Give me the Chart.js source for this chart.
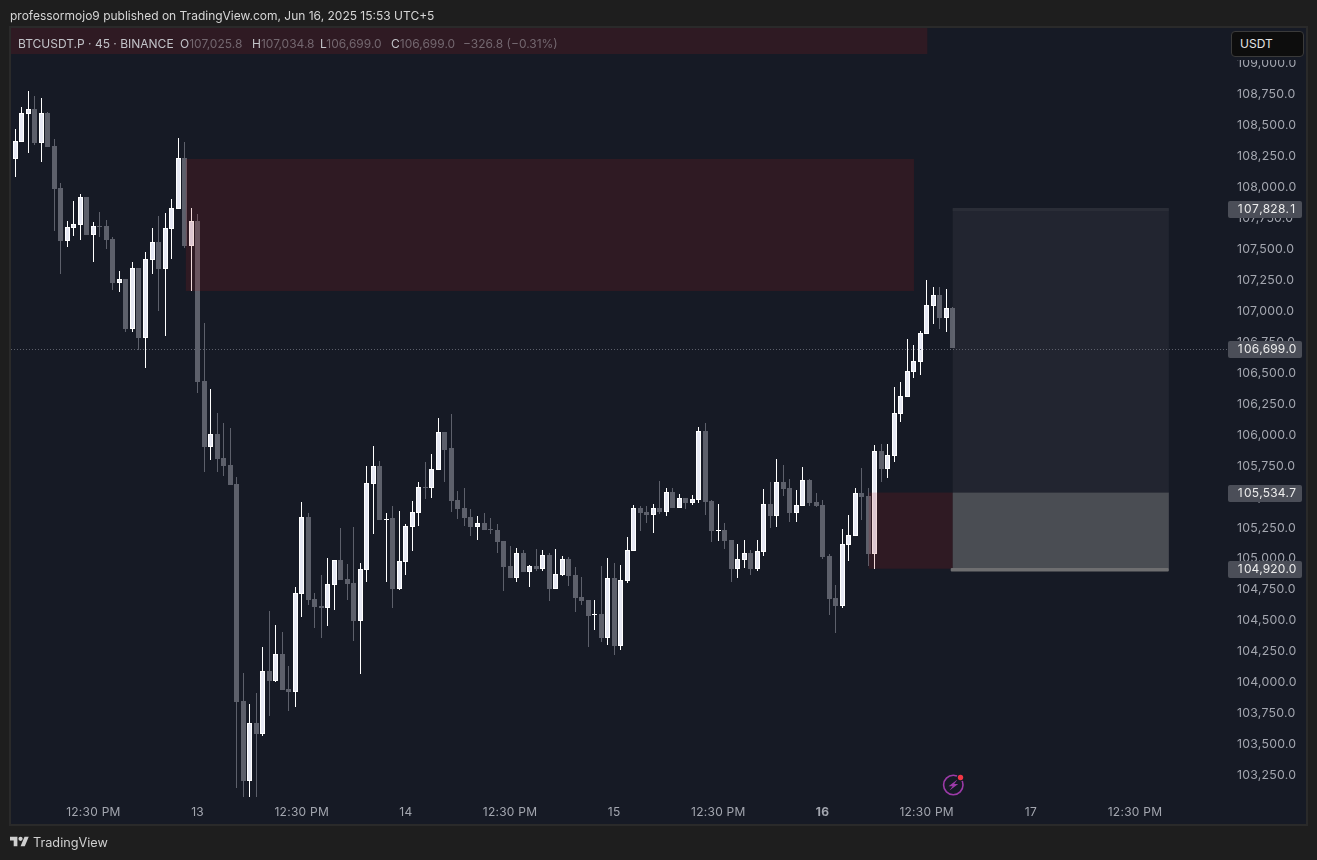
<!DOCTYPE html>
<html>
<head>
<meta charset="utf-8">
<title>BTCUSDT.P 45</title>
<script src="https://cdn.jsdelivr.net/npm/chart.js@4"></script>
<style>
  html, body { margin: 0; padding: 0; width: 1317px; height: 860px; overflow: hidden; background: #1e1e1e; font-family: Inter, sans-serif; }
  .pane { position: absolute; left: 9px; top: 26px; width: 1295px; height: 796px; background: #161a25; border: 2px solid #2a2a2a; }
  canvas { position: absolute; left: 0; top: 0; }
  .txt { position: absolute; white-space: nowrap; }
  #published { left: 10px; top: 8px; font-size: 12px; line-height: 15px; color: #d6d6d6; }
  .legend { top: 36px; font-size: 12px; line-height: 15px; color: #c2c3c8; }
  .legend span { color: #73676f; }
  #unit { position: absolute; left: 1231px; top: 31px; width: 71px; height: 24px; background: #0d0d0d; border: 1px solid #3a3a3a; border-radius: 4px; color: #e4e4e4; font-size: 12px; line-height: 24px; text-indent: 8px; }
  #brand { left: 33px; top: 835px; font-size: 12.7px; line-height: 16px; color: #cfcfcf; }
  svg { position: absolute; }
</style>
</head>
<body>
<div class="pane"></div>
<canvas id="chart" width="1317" height="860"></canvas>
<div class="txt" id="published">professormojo9 published on TradingView.com, Jun 16, 2025 15:53 UTC+5</div>
<div class="txt legend" style="left:18px">BTCUSDT.P · 45 · BINANCE</div>
<div class="txt legend" style="left:180px">O<span>107,025.8</span></div>
<div class="txt legend" style="left:252px">H<span>107,034.8</span></div>
<div class="txt legend" style="left:320px">L<span>106,699.0</span></div>
<div class="txt legend" style="left:391px">C<span>106,699.0</span></div>
<div class="txt legend" style="left:463px"><span>−326.8 (−0.31%)</span></div>
<div id="unit">USDT</div>
<svg style="left:942px;top:773px" width="24" height="24" viewBox="0 0 24 24">
  <circle cx="11.3" cy="12" r="9.7" fill="none" stroke="#9c3aa8" stroke-width="1.6"/>
  <path d="M15.5 6.5 L6.5 13.2 L10.6 13.2 L7.5 17.5 L16.2 11 L12.2 11 Z" fill="#9c3aa8"/>
  <circle cx="18.5" cy="4.5" r="3.8" fill="#161a25"/>
  <circle cx="18.5" cy="4.5" r="2.7" fill="#f23645"/>
</svg>
<svg style="left:10px;top:835px" width="19" height="14" viewBox="0 1 36 26">
  <path fill="#cfcfcf" d="M14 22H7V11H0V4h14v18zM28 22h-8l7.5-18h8L28 22z"/>
  <circle fill="#cfcfcf" cx="20" cy="8" r="4"/>
</svg>
<div class="txt" id="brand">TradingView</div>
<script>
const opens = [108229,108366,108592,108633,108358,108600,108334,107995,107566,107671,107696,107922,107615,107688,107688,107583,107227,107260,106856,107348,106783,107413,107558,107340,107663,107825,108237,107526,107728,106436,105903,106008,105814,105757,105604,103851,103205,103674,103585,104094,104013,104231,103948,103924,104716,105338,104675,104619,104603,104788,104990,104837,104804,104497,104909,105604,105749,105313,105329,104756,104974,105257,105370,105580,105572,105717,106024,105895,105475,105410,105338,105257,105289,105241,105232,105144,104942,104845,105047,104893,104942,104918,105031,104756,104869,104998,104869,104691,104667,104546,104554,104360,104845,104296,104821,105063,105410,105378,105354,105410,105378,105539,105410,105491,105450,105475,106032,105467,105224,105232,105152,104918,104990,105047,104918,105055,105443,105346,105620,105572,105370,105426,105636,105459,105434,105023,104683,104619,105111,105184,105531,105507,105039,105870,105725,105830,106169,106307,106508,106589,106815,107042,107130,106945,107025.8];
const highs = [108469,108646,108778,108738,108721,108608,108390,108035,107728,107890,107946,107922,107720,107801,107736,107599,107324,107260,107397,107348,107478,107671,107768,107793,107906,108398,108366,107833,107785,106904,106371,106177,106097,106056,105660,104078,103827,103916,104288,104578,104465,104409,104134,104772,105459,105370,104724,104869,105006,104990,105249,104958,105257,104966,105749,105911,105790,105370,105426,105386,105281,105467,105620,105782,105846,106137,106024,106169,105547,105572,105402,105346,105370,105329,105281,105144,105103,105087,105071,104950,105079,105071,105047,105079,105023,105014,104934,104853,104667,104667,104942,105006,104966,104950,105176,105434,105426,105426,105443,105628,105572,105572,105523,105491,105515,106064,106097,105475,105443,105289,105152,105119,105152,105071,105152,105564,105620,105806,105757,105644,105556,105741,105644,105531,105475,105039,104788,105241,105354,105572,105733,105572,105919,105927,105927,106387,106428,106775,106727,106840,107252,107195,107195,107179,107034.8];
const lows = [108086,108366,108277,108342,108205,108326,107647,107300,107518,107607,107575,107615,107397,107599,107502,107171,107155,106832,106832,106686,106541,107300,107001,106799,107421,107825,107510,107163,106339,105701,105798,105701,105669,105596,103149,103076,103076,103076,103569,103730,104005,103940,103771,103803,104530,104627,104441,104360,104457,104586,104829,104667,104336,104070,104813,105200,105313,104813,104603,104748,104869,105063,105265,105483,105491,105717,105620,105378,105321,105265,105184,105152,105232,105200,105047,104740,104845,104813,104893,104772,104901,104901,104659,104756,104861,104780,104570,104627,104288,104425,104328,104304,104223,104263,104804,105063,105224,105289,105208,105362,105346,105410,105410,105402,105434,105450,105354,105136,105144,105079,104813,104845,104926,104869,104901,105023,105249,105257,105507,105297,105297,105426,105426,105418,104998,104546,104401,104603,104982,105184,105313,104942,104918,105620,105652,105782,106105,106307,106460,106484,106815,106896,106856,106832,106699.0];
const closes = [108374,108600,108633,108358,108600,108326,107986,107566,107680,107704,107922,107615,107688,107680,107575,107227,107260,106856,107348,106783,107421,107558,107340,107671,107833,108237,107526,107728,106428,105903,106008,105806,105749,105596,103843,103205,103674,103585,104094,104013,104231,103940,103924,104724,105338,104667,104611,104603,104796,104990,104829,104796,104497,104918,105612,105749,105313,105321,104756,104982,105265,105378,105580,105572,105725,106024,105879,105467,105402,105329,105257,105289,105232,105232,105136,104934,104845,105047,104893,104942,104918,105031,104756,104877,104998,104861,104683,104659,104538,104554,104360,104845,104296,104829,105071,105410,105370,105354,105410,105378,105539,105410,105491,105450,105483,106032,105459,105224,105232,105144,104918,104998,105047,104918,105063,105443,105346,105620,105564,105370,105434,105636,105450,105426,105014,104675,104619,105119,105192,105531,105499,105039,105870,105725,105838,106177,106315,106517,106597,106823,107050,107130,106945,107025,106699.0];

// x axis: 32 bars a day, index 28 is the 13th
const timeTickBars = [12,28,44,60,76,92,108,124,140,156,172];
const timeTickLabels = ['12:30 PM','13','12:30 PM','14','12:30 PM','15','12:30 PM','16','12:30 PM','17','12:30 PM'];
const boldTimeLabel = '16';
const priceTicks = [109000,108750,108500,108250,108000,107750,107500,107250,107000,106750,106500,106250,106000,105750,105500,105250,105000,104750,104500,104250,104000,103750,103500,103250];

// [first bar, last bar, top price, bottom price]
const topBand = [-0.66, 140.1, 109287, 109077];
const resistanceZone = [26.2, 138.05, 108229, 107163];
const supportZone = [131.1, 144, 105534.7, 104920];
const targetBox = [144, 177.2, 107828.1, 105534.7];
const stopBox = [144, 177.2, 105534.7, 104920];
const lastPrice = 106699.0;
const priceTags = [107828.1, 106699.0, 105534.7, 104920.0];

const barIndex = opens.map((_, i) => i);
const isUp = i => closes[i] >= opens[i];

const UP_FILL = '#e7e9f4', UP_LINE = '#ffffff', DOWN = '#5d606b';
const FONT = 'Inter, sans-serif';

const fmt = v => v.toLocaleString('en-US', { minimumFractionDigits: 1, maximumFractionDigits: 1 });

// snap bars to whole pixels so wicks stay crisp
const snapBars = {
  id: 'snapBars',
  afterDatasetsUpdate(chart) {
    chart.data.datasets.forEach((ds, d) => {
      chart.getDatasetMeta(d).data.forEach(el => {
        el.x = Math.floor(el.x) + 0.5;
        el.y = Math.round(el.y);
        el.base = Math.round(el.base);
        if (el.base - el.y < 1) el.base = el.y + 1;
      });
    });
  }
};

function box(chart, z, fill) {
  const { x, y } = chart.scales;
  const ctx = chart.ctx;
  const x0 = x.getPixelForValue(z[0]), x1 = x.getPixelForValue(z[1]);
  const y0 = y.getPixelForValue(z[2]), y1 = y.getPixelForValue(z[3]);
  ctx.fillStyle = fill;
  ctx.fillRect(x0, y0, x1 - x0, y1 - y0);
}

// digits in the price tags are tabular, canvas text has no switch for that
function tabularText(ctx, str, left, mid) {
  const cell = ctx.measureText('0').width;
  let px = left;
  ctx.textAlign = 'center';
  for (const ch of str) {
    const w = /\d/.test(ch) ? cell : ctx.measureText(ch).width;
    ctx.fillText(ch, px + w / 2, mid);
    px += w;
  }
}

const overlays = {
  id: 'overlays',
  beforeDraw(chart) {
    chart.ctx.letterSpacing = '0.25px';
  },
  afterDatasetsDraw(chart) {
    const ctx = chart.ctx;
    const { x, y } = chart.scales;
    const area = chart.chartArea;
    ctx.save();
    const RED = 'rgba(170,30,30,0.17)';
    box(chart, topBand, RED);
    box(chart, resistanceZone, RED);
    box(chart, supportZone, RED);
    box(chart, targetBox, 'rgba(120,123,134,0.12)');
    box(chart, stopBox, 'rgba(150,150,150,0.41)');

    // edges of the long position tool
    const bx0 = x.getPixelForValue(targetBox[0]), bx1 = x.getPixelForValue(targetBox[1]);
    ctx.fillStyle = '#2a2d37';
    ctx.fillRect(bx0, Math.round(y.getPixelForValue(targetBox[2])) - 1, bx1 - bx0, 3);
    ctx.fillStyle = '#6e6e70';
    ctx.beginPath();
    ctx.roundRect(bx0 - 2, Math.round(y.getPixelForValue(stopBox[3])) - 1, bx1 - bx0 + 2, 3.5, 1);
    ctx.fill();

    // last price line
    const ly = Math.ceil(y.getPixelForValue(lastPrice)) + 0.5;
    ctx.strokeStyle = '#5d606b';
    ctx.lineWidth = 1;
    ctx.setLineDash([1, 2]);
    ctx.beginPath();
    ctx.moveTo(area.left, ly);
    ctx.lineTo(area.right + 2, ly);
    ctx.stroke();
    ctx.restore();
  },
  afterDraw(chart) {
    const ctx = chart.ctx;
    const y = chart.scales.y;
    ctx.letterSpacing = '0px';
    ctx.save();
    // the top price label is cut off under the currency box
    ctx.fillStyle = '#161a25';
    ctx.fillRect(1227, 56, 78, 4);
    ctx.font = '12px ' + FONT;
    ctx.textBaseline = 'middle';
    priceTags.forEach(p => {
      const py = Math.ceil(y.getPixelForValue(p));
      ctx.fillStyle = '#4b4e58';
      ctx.beginPath();
      ctx.roundRect(1228, py - 8, 74, 17, 2);
      ctx.fill();
      ctx.fillStyle = '#ececec';
      tabularText(ctx, fmt(p), 1236.5, py + 0.5);
    });
    ctx.restore();
  }
};

new Chart(document.getElementById('chart'), {
  type: 'bar',
  data: {
    datasets: [
      {
        label: 'body',
        data: barIndex.map(i => ({ x: i, y: [opens[i], closes[i]] })),
        barThickness: 5,
        borderWidth: 1,
        borderSkipped: false,
        inflateAmount: 0,
        backgroundColor: c => isUp(c.dataIndex) ? UP_FILL : DOWN,
        borderColor: c => isUp(c.dataIndex) ? UP_LINE : DOWN,
        grouped: false,
        order: 1
      },
      {
        label: 'wick',
        data: barIndex.map(i => ({ x: i, y: [lows[i], highs[i]] })),
        barThickness: 1,
        borderWidth: 0,
        inflateAmount: 0,
        backgroundColor: c => isUp(c.dataIndex) ? UP_LINE : DOWN,
        grouped: false,
        order: 2
      }
    ]
  },
  options: {
    responsive: false,
    animation: false,
    events: [],
    layout: { padding: { left: 11, right: 11, top: 28, bottom: 36 } },
    plugins: { legend: { display: false }, tooltip: { enabled: false } },
    scales: {
      x: {
        type: 'linear',
        offset: false,
        min: -0.66,
        max: 185.98,
        grid: { display: false, drawTicks: false },
        border: { display: false },
        afterBuildTicks: s => { s.ticks = timeTickBars.map(v => ({ value: v })); },
        afterFit: s => { s.height = 26; },
        ticks: {
          autoSkip: false,
          maxRotation: 0,
          padding: 7,
          color: '#a3a6af',
          font: c => ({ family: FONT, size: 12, weight: c.tick && c.tick.label === boldTimeLabel ? '700' : '400' }),
          callback: v => timeTickLabels[timeTickBars.indexOf(v)]
        }
      },
      y: {
        position: 'right',
        min: 103068,
        max: 109287,
        grid: { display: false, drawTicks: false },
        border: { display: false },
        afterBuildTicks: s => { s.ticks = priceTicks.map(v => ({ value: v })); },
        afterFit: s => { s.width = 80; },
        ticks: {
          autoSkip: false,
          padding: 11,
          color: '#a3a6af',
          font: { family: FONT, size: 12.3 },
          callback: v => fmt(v)
        }
      }
    }
  },
  plugins: [snapBars, overlays]
});
</script>
</body>
</html>
